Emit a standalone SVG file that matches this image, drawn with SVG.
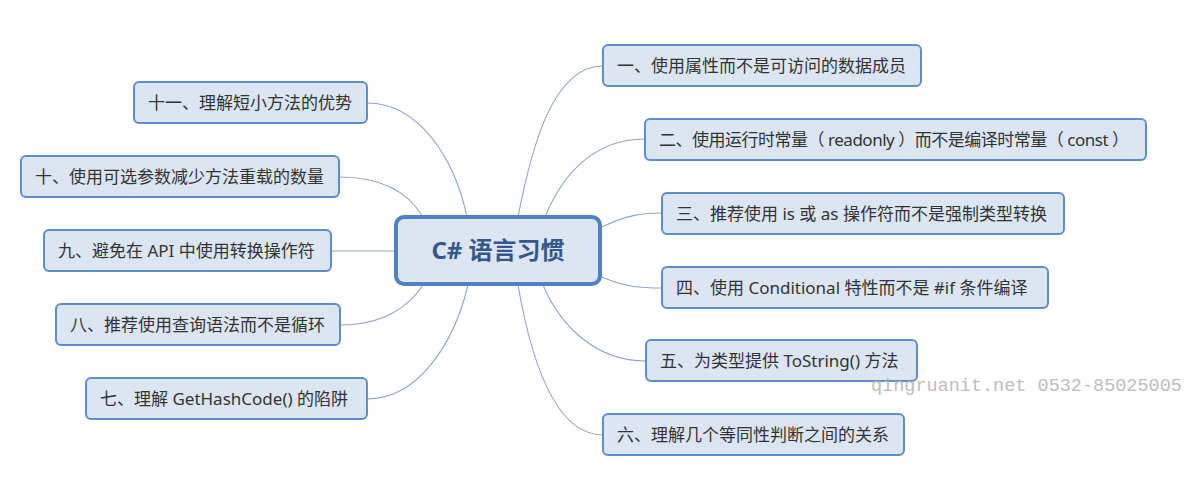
<svg xmlns="http://www.w3.org/2000/svg" width="1194" height="482" viewBox="0 0 1194 482">
<style>
.n rect{fill:#dce6f2;stroke:#5f8dc8;stroke-width:2}
.n text{font-family:"Noto Sans","Noto Sans CJK SC",sans-serif;font-size:17px;fill:#333}
.c rect{fill:#dce6f2;stroke:#4f81c4;stroke-width:4}
.c text{font-family:"Noto Sans","Noto Sans CJK SC",sans-serif;font-size:24px;font-weight:bold;fill:#35578c}
#edges path{fill:none;stroke:#8ca6c9;stroke-width:1.1}
.wm{font-family:"Liberation Mono",monospace;font-size:18.5px;fill:#bdbdbd}
</style>
<rect width="1194" height="482" fill="#fff"/>
<g id="edges">
<path d="M518,217 C531,150 552,66 603,66"/>
<path d="M545,217 C560,180 590,139 645,139"/>
<path d="M602,227 C625,216 640,213 662,213"/>
<path d="M602,277 C625,287 640,288 662,288"/>
<path d="M543,285 C560,325 595,361 646,361"/>
<path d="M518,285 C531,360 555,435 603,435"/>
<path d="M467,217 C455,160 420,103 367,103"/>
<path d="M423,217 C410,195 385,177 339,177"/>
<path d="M396,251 L331,251"/>
<path d="M423,285 C410,305 385,325 340,325"/>
<path d="M468,285 C455,340 420,399 367,399"/>
</g>
<g id="center" class="c"><rect x="396" y="217" width="204" height="67" rx="8"/><text x="498" y="259" text-anchor="middle">C# 语言习惯</text></g>
<g id="n1" class="n"><rect x="603" y="45" width="318" height="41" rx="5"/><text x="617" y="72">一、使用属性而不是可访问的数据成员</text></g>
<g id="n2" class="n"><rect x="645" y="119" width="501" height="41" rx="5"/><text x="659" y="146" textLength="470" lengthAdjust="spacing">二、使用运行时常量（ readonly ）而不是编译时常量（ const ）</text></g>
<g id="n3" class="n"><rect x="662" y="193" width="402" height="41" rx="5"/><text x="676" y="220">三、推荐使用 is 或 as 操作符而不是强制类型转换</text></g>
<g id="n4" class="n"><rect x="662" y="267" width="386" height="41" rx="5"/><text x="676" y="294">四、使用 Conditional 特性而不是 #if 条件编译</text></g>
<g id="n5" class="n"><rect x="646" y="340" width="271" height="41" rx="5"/><text x="660" y="367">五、为类型提供 ToString() 方法</text></g>
<g id="n6" class="n"><rect x="603" y="414" width="301" height="41" rx="5"/><text x="617" y="441">六、理解几个等同性判断之间的关系</text></g>
<g id="n11" class="n"><rect x="134" y="82" width="233" height="41" rx="5"/><text x="148" y="109">十一、理解短小方法的优势</text></g>
<g id="n10" class="n"><rect x="21" y="156" width="318" height="41" rx="5"/><text x="35" y="183">十、使用可选参数减少方法重载的数量</text></g>
<g id="n9" class="n"><rect x="44" y="230" width="287" height="41" rx="5"/><text x="58" y="257">九、避免在 API 中使用转换操作符</text></g>
<g id="n8" class="n"><rect x="56" y="304" width="284" height="41" rx="5"/><text x="70" y="331">八、推荐使用查询语法而不是循环</text></g>
<g id="n7" class="n"><rect x="86" y="378" width="281" height="41" rx="5"/><text x="100" y="405">七、理解 GetHashCode() 的陷阱</text></g>
<text class="wm" x="871" y="391">qingruanit.net 0532-85025005</text>
</svg>
